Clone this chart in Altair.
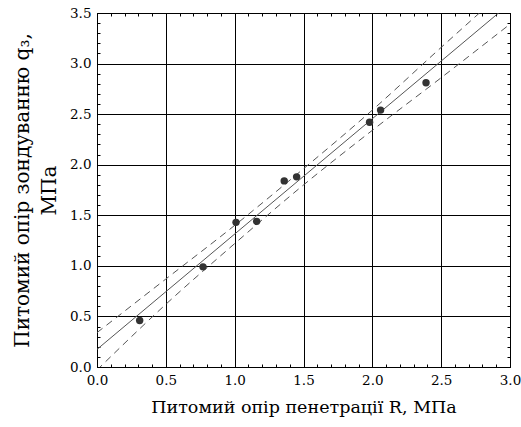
import altair as alt
import pandas as pd

# Measured points
r_vals = [0.31, 0.77, 1.01, 1.16, 1.36, 1.45, 1.98, 2.06, 2.39]
q_vals = [0.46, 0.99, 1.43, 1.44, 1.84, 1.88, 2.42, 2.54, 2.81]

# Confidence band
band_x = [0.0, 0.5, 1.0, 1.5, 2.0, 2.5, 3.0]
band_upper = [0.34, 0.87, 1.40, 1.96, 2.54, 3.16, 3.77]
band_lower = [-0.03, 0.62, 1.22, 1.80, 2.34, 2.86, 3.39]

x_ticks = [round(i * 0.1, 1) for i in range(31)]
y_ticks = [round(i * 0.1, 1) for i in range(36)]

FONT = "DejaVu Serif"
MAJ = "abs(datum.value*2 - round(datum.value*2)) < 1e-6"

pts = pd.DataFrame({"R": r_vals, "q": q_vals})
band = pd.DataFrame({"R": band_x, "up": band_upper, "lo": band_lower})

xs = alt.Scale(domain=[0, 3], nice=False, zero=False)
ys = alt.Scale(domain=[0, 3.5], nice=False, zero=False)

grid_op = {"condition": {"test": MAJ, "value": 1}, "value": 0}

x_main = alt.Axis(
    values=x_ticks, labelExpr=f"{MAJ} ? format(datum.value, '.1f') : ''",
    grid=True, gridColor="black", gridOpacity=grid_op, gridWidth=1,
    tickSize=3, tickColor="black", offset=-3, domain=False,
    labelFont=FONT, labelFontSize=13.5, labelColor="black", labelPadding=6,
    labelFlush=False,
    title="Питомий опір пенетрації R, МПа", titleFont=FONT, titleFontSize=17.5,
    titleFontWeight="normal", titleColor="black", titlePadding=12,
)
y_main = alt.Axis(
    values=y_ticks, labelExpr=f"{MAJ} ? format(datum.value, '.1f') : ''",
    grid=True, gridColor="black", gridOpacity=grid_op, gridWidth=1,
    tickSize=3, tickColor="black", offset=-3, domain=False,
    labelFont=FONT, labelFontSize=13.5, labelColor="black", labelPadding=6,
    labelFlush=False,
    title=["Питомий опір зондуванню q₃,", "МПа"], titleFont=FONT, titleFontSize=20,
    titleFontWeight="normal", titleColor="black", titlePadding=10,
    titleLineHeight=27,
)
x_top = alt.Axis(orient="top", values=x_ticks, labels=False, grid=False, domain=False,
                 tickSize=3, tickColor="black", offset=-3, title=None)
y_right = alt.Axis(orient="right", values=y_ticks, labels=False, grid=False, domain=False,
                   tickSize=3, tickColor="black", offset=-3, title=None)

points = alt.Chart(pts).mark_circle(size=55, color="#333333", opacity=1).encode(
    x=alt.X("R:Q", scale=xs, axis=x_main),
    y=alt.Y("q:Q", scale=ys, axis=y_main),
)

fit = alt.Chart(pts).transform_regression("R", "q", extent=[0, 3]).mark_line(
    color="#555555", strokeWidth=1, clip=True
).encode(
    x=alt.X("R:Q", scale=xs, axis=x_top),
    y=alt.Y("q:Q", scale=ys, axis=y_right),
)

upper = alt.Chart(band).mark_line(
    color="#555555", strokeWidth=1, strokeDash=[7, 5], clip=True, interpolate="monotone"
).encode(
    x=alt.X("R:Q", scale=xs, axis=None),
    y=alt.Y("up:Q", scale=ys, axis=None),
)
lower = alt.Chart(band).mark_line(
    color="#555555", strokeWidth=1, strokeDash=[7, 5], clip=True, interpolate="monotone"
).encode(
    x=alt.X("R:Q", scale=xs, axis=None),
    y=alt.Y("lo:Q", scale=ys, axis=None),
)

chart = alt.layer(upper, lower, fit, points).resolve_axis(
    x="independent", y="independent"
).properties(
    width=413, height=354,
    autosize=alt.AutoSizeParams(type="none"),
    padding={"left": 97, "top": 13, "right": 11, "bottom": 60},
    background="white",
).configure_view(stroke="black", strokeWidth=1)

chart.save("out.html", embed_options={"renderer": "svg", "actions": False})
